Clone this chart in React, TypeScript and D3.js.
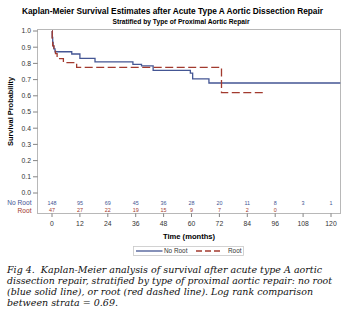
import React from "react";
import * as d3 from "d3";

const noRootTimes = [0, 0.1, 0.3, 0.5, 0.8, 1.3, 8.5, 12, 18.5, 34.8, 38.5, 43.5, 59.5, 60.5, 67.5, 124];
const noRootSurv = [1, 0.96, 0.93, 0.905, 0.89, 0.872, 0.858, 0.831, 0.81, 0.794, 0.785, 0.757, 0.74, 0.705, 0.679, 0.679];
const rootTimes = [0, 0.1, 0.3, 0.8, 1.5, 2.2, 4.9, 10.6, 72.9, 91.3];
const rootSurv = [1, 0.95, 0.91, 0.89, 0.86, 0.83, 0.805, 0.776, 0.619, 0.619];

const xTicks = [0, 12, 24, 36, 48, 60, 72, 84, 96, 108, 120];
const yTicks = [0, 0.1, 0.2, 0.3, 0.4, 0.5, 0.6, 0.7, 0.8, 0.9, 1.0];
const atRiskNoRoot = [148, 95, 69, 45, 36, 28, 20, 11, 8, 3, 1];
const atRiskRoot = [47, 27, 22, 19, 15, 9, 7, 2, 0];

const seriesNames = ["No Root", "Root"];
const captionLines = [
  "Fig 4.\u00a0 Kaplan-Meier analysis of survival after acute type A aortic",
  "dissection repair, stratified by type of proximal aortic repair: no root",
  "(blue solid line), or root (red dashed line). Log rank comparison",
  "between strata = 0.69.",
];
const captionWidths = [315, 325, 306, 111];

const BLUE = "#445694";
const RED = "#A23A2E";
const SANS = "Arial, 'Liberation Sans', sans-serif";

export default function App() {
  const x = d3.scaleLinear().domain([0, 120]).range([52, 331]);
  const y = d3.scaleLinear().domain([0, 1]).range([193, 31]);
  const frame = { l: 37.5, t: 29.5, r: 340.5, b: 213.5 };

  const line = d3
    .line<[number, number]>()
    .x((d) => x(d[0]))
    .y((d) => y(d[1]))
    .curve(d3.curveStepAfter);

  const blueD = line(noRootTimes.map((t, i) => [t, noRootSurv[i]] as [number, number])) || "";
  const redD = line(rootTimes.map((t, i) => [t, rootSurv[i]] as [number, number])) || "";

  return (
    <svg
      width={346}
      height={331}
      style={{ position: "absolute", left: 0, top: 0, background: "#fff" }}
      fontFamily={SANS}
    >
      <rect x={0} y={0} width={346} height={331} fill="#fff" />
      <text x={172.5} y={14} textAnchor="middle" fontSize={8.6} fontWeight="bold" fill="#000"
        textLength={301} lengthAdjust="spacingAndGlyphs">
        Kaplan-Meier Survival Estimates after Acute Type A Aortic Dissection Repair
      </text>
      <text x={181} y={23.5} textAnchor="middle" fontSize={6.6} fontWeight="bold" fill="#000"
        textLength={137} lengthAdjust="spacingAndGlyphs">
        Stratified by Type of Proximal Aortic Repair
      </text>

      <rect x={frame.l} y={frame.t} width={frame.r - frame.l} height={frame.b - frame.t}
        fill="none" stroke="#b8b8b8" strokeWidth={1} />

      {yTicks.map((v) => (
        <g key={v}>
          <line x1={33} x2={frame.l} y1={y(v)} y2={y(v)} stroke="#666" strokeWidth={0.8} />
          <text x={31} y={y(v) + 2.4} textAnchor="end" fontSize={6.8} fill="#333">
            {v.toFixed(1)}
          </text>
        </g>
      ))}
      <text transform={`translate(12.5,${111.5}) rotate(-90)`} textAnchor="middle" fontSize={7.4}
        fontWeight="bold" fill="#000">
        Survival Probability
      </text>

      {xTicks.map((t) => (
        <g key={t}>
          <line x1={x(t)} x2={x(t)} y1={frame.b} y2={frame.b + 3.5} stroke="#666" strokeWidth={0.8} />
          <text x={x(t)} y={225.5} textAnchor="middle" fontSize={6.8} fill="#333">
            {t}
          </text>
        </g>
      ))}
      <text x={189} y={239} textAnchor="middle" fontSize={7.6} fontWeight="bold" fill="#000">
        Time (months)
      </text>

      <text x={31.5} y={205} textAnchor="end" fontSize={6.6} fill={BLUE}>{seriesNames[0]}</text>
      <text x={31.5} y={212.5} textAnchor="end" fontSize={6.6} fill={RED}>{seriesNames[1]}</text>
      {atRiskNoRoot.map((n, i) => (
        <text key={"b" + i} x={x(xTicks[i])} y={204.5} textAnchor="middle" fontSize={5.4} fill={BLUE}>
          {n}
        </text>
      ))}
      {atRiskRoot.map((n, i) => (
        <text key={"r" + i} x={x(xTicks[i])} y={212} textAnchor="middle" fontSize={5.4} fill={RED}>
          {n}
        </text>
      ))}

      <path d={blueD} fill="none" stroke={BLUE} strokeWidth={1.3} />
      <path d={redD} fill="none" stroke={RED} strokeWidth={1.3} strokeDasharray="8,3.5" />

      <rect x={133.5} y={246.5} width={110} height={9} fill="#fff" stroke="#c8c8c8" strokeWidth={0.8} />
      <line x1={136} x2={162.5} y1={251} y2={251} stroke={BLUE} strokeWidth={1.3} />
      <text x={164} y={253.3} fontSize={6.4} fill="#333">{seriesNames[0]}</text>
      <line x1={196} x2={220} y1={251} y2={251} stroke={RED} strokeWidth={1.3} strokeDasharray="6,3" />
      <text x={228} y={253.3} fontSize={6.4} fill="#333">{seriesNames[1]}</text>

      {captionLines.map((s, i) => (
        <text key={i} x={7} y={273 + i * 10.9} fontSize={9.2} fontStyle="italic"
          fontFamily="'DejaVu Serif', 'Liberation Serif', serif" fill="#111"
          textLength={captionWidths[i]} lengthAdjust="spacingAndGlyphs">
          {s}
        </text>
      ))}
    </svg>
  );
}
